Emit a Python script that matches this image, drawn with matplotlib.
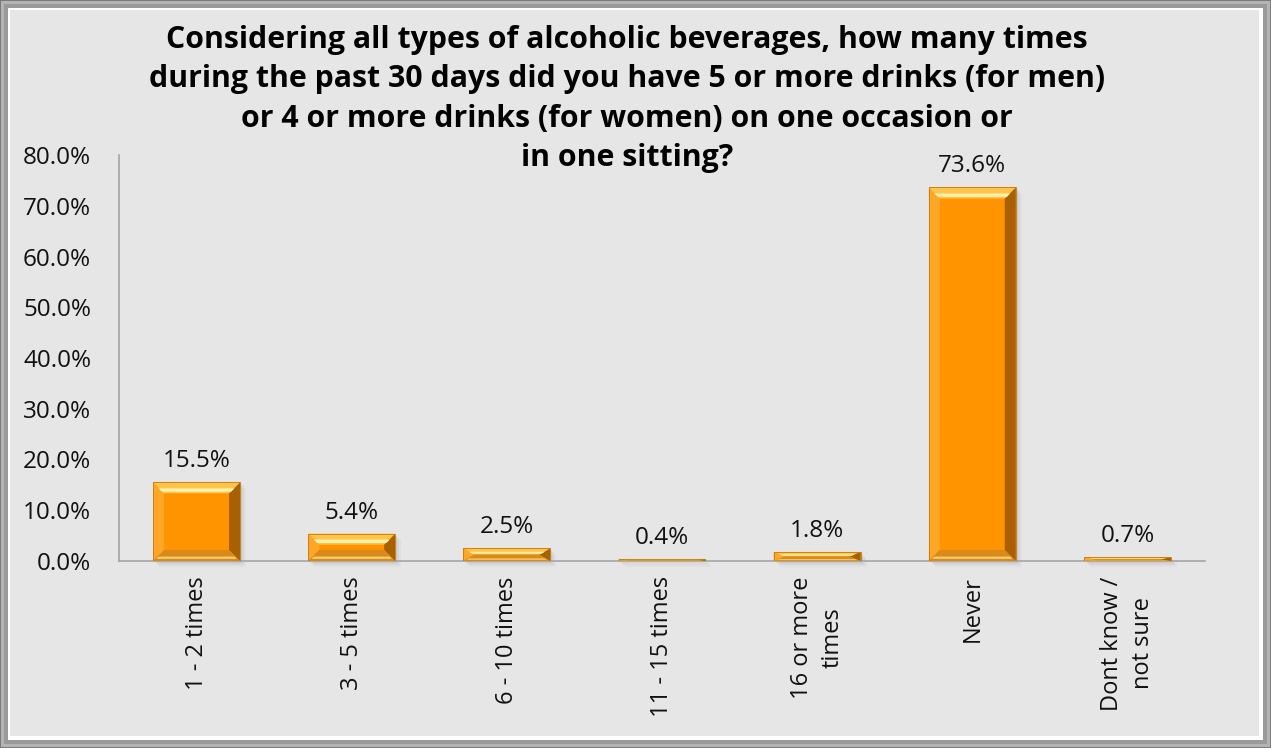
import matplotlib
matplotlib.use("Agg")
import matplotlib.pyplot as plt
from matplotlib.patches import Polygon, Rectangle
import numpy as np

plt.rcParams['font.family'] = ['Open Sans', 'DejaVu Sans']

categories = ["1 - 2 times", "3 - 5 times", "6 - 10 times", "11 - 15 times",
              "16 or more\ntimes", "Never", "Dont know /\nnot sure"]
values = [0.155, 0.054, 0.025, 0.004, 0.018, 0.736, 0.007]
yticks = [0.0, 0.1, 0.2, 0.3, 0.4, 0.5, 0.6, 0.7, 0.8]
title_lines = ["Considering all types of alcoholic beverages, how many times",
               "during the past 30 days did you have 5 or more drinks (for men)",
               "or 4 or more drinks (for women) on one occasion or",
               "in one sitting?"]

W, H = 1271, 748
fig = plt.figure(figsize=(W / 100, H / 100), dpi=100)
fig.patch.set_facecolor('#E6E6E6')

# bevelled frame around the whole figure
def px_rect(x0, y0, x1, y1, **kw):
    r = Rectangle((x0 / W, 1 - y1 / H), (x1 - x0) / W, (y1 - y0) / H,
                  transform=fig.transFigure, **kw)
    fig.patches.append(r)

px_rect(0, 0, W, H, facecolor='#7A7A7A', edgecolor='none', zorder=-10)
px_rect(1, 1, W - 1, H - 1, facecolor='#B4B4B4', edgecolor='none', zorder=-9)
px_rect(4, 4, W - 4, H - 4, facecolor='#9A9A9A', edgecolor='none', zorder=-8)
px_rect(8, 8, W - 8, H - 8, facecolor='#FFFFFF', edgecolor='none', zorder=-7)
px_rect(10, 10, W - 12, H - 12, facecolor='#E6E6E6', edgecolor='none', zorder=-6)

ax_l, ax_r, ax_t, ax_b = 119, 1205, 155, 561
ax = fig.add_axes([ax_l / W, 1 - ax_b / H, (ax_r - ax_l) / W, (ax_b - ax_t) / H])
ax.set_facecolor('none')
ax.set_xlim(-0.5, len(categories) - 0.5)
ax.set_ylim(0, 0.8)

for s in ['top', 'right']:
    ax.spines[s].set_visible(False)
ax.spines['left'].set_color('#A6A6A6')
ax.spines['bottom'].set_color('#A6A6A6')
ax.spines['left'].set_linewidth(1.2)
ax.spines['bottom'].set_linewidth(1.2)

ax.set_yticks(yticks)
ax.set_yticklabels([f"{v * 100:.1f}%" for v in yticks], fontsize=17.5, color='#111111')
ax.tick_params(axis='y', length=0, pad=20)
x = np.arange(len(categories))
ax.set_xticks(x)
ax.set_xticklabels(categories, rotation=90, fontsize=17, color='#111111',
                   va='top', ha='center', multialignment='center',
                   linespacing=1.35)
ax.tick_params(axis='x', length=0, pad=11)

bar_w = 0.56
px_per_x = (ax_r - ax_l) / (len(categories))
px_per_y = (ax_b - ax_t) / 0.8
bev_px = 11

for xi, v in zip(x, values):
    x0, x1 = xi - bar_w / 2, xi + bar_w / 2
    dy = min(bev_px / px_per_y, v / 2)
    dx = min(bev_px / px_per_x, bar_w / 2)
    # soft shadow to the right / below
    for k, a in enumerate([0.10, 0.07, 0.04]):
        off_x = (2 + 2 * k) / px_per_x
        off_y = (2 + 2 * k) / px_per_y
        ax.add_patch(Rectangle((x0 + off_x, -off_y), bar_w, v,
                               facecolor='#505050', alpha=a, edgecolor='none',
                               zorder=1, clip_on=False))
    # face
    ax.add_patch(Rectangle((x0, 0), bar_w, v, facecolor='#FF9300',
                           edgecolor='none', zorder=2))
    # left bevel
    ax.add_patch(Polygon([(x0, 0), (x0 + dx, dy), (x0 + dx, v - dy), (x0, v)],
                         facecolor='#FFA626', edgecolor='none', zorder=3))
    # right bevel
    ax.add_patch(Polygon([(x1, 0), (x1 - dx, dy), (x1 - dx, v - dy), (x1, v)],
                         facecolor='#A86000', edgecolor='none', zorder=3))
    # top bevel
    ax.add_patch(Polygon([(x0, v), (x1, v), (x1 - dx, v - dy), (x0 + dx, v - dy)],
                         facecolor='#FFC548', edgecolor='none', zorder=4))
    ax.add_patch(Polygon([(x0 + dx * 0.5, v - dy * 0.55), (x1 - dx * 0.5, v - dy * 0.55),
                          (x1 - dx * 0.8, v - dy * 0.85), (x0 + dx * 0.8, v - dy * 0.85)],
                         facecolor='#FFF2B0', edgecolor='none', zorder=5))
    # bottom bevel
    ax.add_patch(Polygon([(x0, 0), (x1, 0), (x1 - dx, dy), (x0 + dx, dy)],
                         facecolor='#D88A1A', edgecolor='none', zorder=4))
    ax.add_patch(Polygon([(x0 + dx * 0.3, dy * 0.2), (x1 - dx * 0.3, dy * 0.2),
                          (x1 - dx * 0.5, dy * 0.4), (x0 + dx * 0.5, dy * 0.4)],
                         facecolor='#FFD070', edgecolor='none', zorder=5))
    # thin outline
    ax.add_patch(Rectangle((x0, 0), bar_w, v, facecolor='none',
                           edgecolor='#C07A10', linewidth=0.6, zorder=6))
    ax.annotate(f"{v * 100:.1f}%", (xi, v), xytext=(0, 9),
                textcoords='offset pixels', ha='center', va='bottom',
                fontsize=17.5, color='#111111', zorder=7)

# title drawn line by line, each centred
for i, line in enumerate(title_lines):
    fig.text(627 / W, 1 - (40 + 39.3 * i) / H, line, ha='center', va='center',
             fontsize=21.8, fontweight='bold', color='#000000')

fig.savefig("out.png", dpi=100, facecolor=fig.get_facecolor())
